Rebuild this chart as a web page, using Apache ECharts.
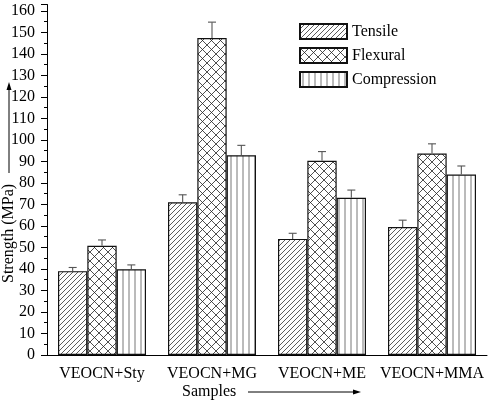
<!DOCTYPE html>
<html>
<head>
<meta charset="utf-8">
<script src="https://cdn.jsdelivr.net/npm/echarts@6/dist/echarts.min.js"></script>
<style>
html, body { margin: 0; padding: 0; background: #fff; }
#chart { width: 488px; height: 401px; }
</style>
</head>
<body>
<div id="chart"></div>
<script>
const categories = ['VEOCN+Sty', 'VEOCN+MG', 'VEOCN+ME', 'VEOCN+MMA'];
const seriesNames = ['Tensile', 'Flexural', 'Compression'];
const tensile = [39, 71, 54, 59.5];
const tensileErr = [1.7, 3.5, 2.6, 3.2];
const flexural = [50.8, 147.4, 90.3, 93.7];
const flexuralErr = [2.7, 7.4, 4.3, 4.5];
const compression = [39.9, 92.9, 73.1, 83.9];
const compressionErr = [2, 4.6, 3.6, 4];
const yTicks = [0, 10, 20, 30, 40, 50, 60, 70, 80, 90, 100, 110, 120, 130, 140, 150, 160];

const FONT = '"Times New Roman", "Liberation Serif", "DejaVu Serif", serif';

// small canvas tiles for the hatch fills
function makePattern(size, draw) {
    const c = document.createElement('canvas');
    c.width = size; c.height = size;
    const ctx = c.getContext('2d');
    ctx.fillStyle = '#fff';
    ctx.fillRect(0, 0, size, size);
    draw(ctx, size);
    return { image: c, repeat: 'repeat' };
}
const diagFill = makePattern(5, (ctx, s) => {
    ctx.strokeStyle = '#333'; ctx.lineWidth = 0.8;
    ctx.beginPath();
    ctx.moveTo(-1, s + 1); ctx.lineTo(s + 1, -1);
    ctx.moveTo(-1, 1); ctx.lineTo(1, -1);
    ctx.moveTo(s - 1, s + 1); ctx.lineTo(s + 1, s - 1);
    ctx.stroke();
});
const crossFill = makePattern(9, (ctx, s) => {
    ctx.strokeStyle = '#222'; ctx.lineWidth = 0.8;
    ctx.beginPath();
    ctx.moveTo(0, 0); ctx.lineTo(s, s);
    ctx.moveTo(0, s); ctx.lineTo(s, 0);
    ctx.stroke();
});
const vertFill = makePattern(6, (ctx, s) => {
    ctx.strokeStyle = '#777'; ctx.lineWidth = 1;
    ctx.beginPath();
    ctx.moveTo(3, 0); ctx.lineTo(3, s);
    ctx.stroke();
});

const values = [tensile, flexural, compression];
const errs = [tensileErr, flexuralErr, compressionErr];
const fills = [diagFill, crossFill, vertFill];

const barSeries = seriesNames.map((name, i) => ({
    name: name,
    type: 'bar',
    data: values[i],
    barGap: '0%',
    barCategoryGap: '20%',
    itemStyle: { color: fills[i], borderColor: '#111', borderWidth: 1.2 },
    emphasis: { disabled: true },
    z: 2
}));

const errSeries = seriesNames.map((name, i) => ({
    type: 'custom',
    name: name + ' err',
    data: values[i].map((v, k) => [k, v, v + errs[i][k]]),
    z: 3,
    silent: true,
    renderItem: (params, api) => {
        const catW = api.size([1, 0])[0];
        const barW = catW * 0.8 / 3;
        const x = api.coord([api.value(0), 0])[0] + (i - 1) * barW;
        const y0 = api.coord([api.value(0), api.value(1)])[1];
        const y1 = api.coord([api.value(0), api.value(2)])[1];
        const style = { stroke: '#555', lineWidth: 1.1 };
        return {
            type: 'group',
            children: [
                { type: 'line', shape: { x1: x, y1: y0, x2: x, y2: y1 }, style: style },
                { type: 'line', shape: { x1: x - 4, y1: y1, x2: x + 4, y2: y1 }, style: style }
            ]
        };
    }
}));

const chart = echarts.init(document.getElementById('chart'));
chart.setOption({
    animation: false,
    backgroundColor: '#fff',
    textStyle: { fontFamily: FONT },
    grid: { left: 47, right: 1, top: 4.5, bottom: 46 },
    legend: {
        data: seriesNames,
        icon: 'rect',
        orient: 'vertical',
        left: 299,
        top: 23,
        padding: 0,
        itemWidth: 47,
        itemHeight: 15,
        itemGap: 7,
        textStyle: { fontFamily: FONT, fontSize: 16, lineHeight: 16, color: '#000' },
        selectedMode: false
    },
    xAxis: [{
        type: 'category',
        data: categories,
        axisLine: { lineStyle: { color: '#000', width: 1 } },
        axisTick: { alignWithLabel: true, length: 5, lineStyle: { color: '#000' } },
        axisLabel: { fontFamily: FONT, fontSize: 16, color: '#000', margin: 11, interval: 0 }
    }, {
        type: 'category',
        data: categories,
        position: 'bottom',
        axisLine: { show: false },
        axisTick: { length: 3, lineStyle: { color: '#000' } },
        axisLabel: { show: false }
    }],
    yAxis: {
        type: 'value',
        min: 0,
        max: 163,
        interval: 10,
        splitLine: { show: false },
        axisLine: { show: true, lineStyle: { color: '#000', width: 1 } },
        axisTick: { show: true, length: 6, lineStyle: { color: '#000' } },
        minorTick: { show: true, splitNumber: 2, length: 3, lineStyle: { color: '#000' } },
        axisLabel: {
            fontFamily: FONT, fontSize: 16, color: '#000', margin: 12,
            formatter: v => (yTicks.indexOf(v) >= 0 ? String(v) : '')
        }
    },
    graphic: [
        {
            type: 'text', x: 1, y: 283, rotation: Math.PI / 2,
            style: { text: 'Strength (MPa)', fontFamily: FONT, fontSize: 16, fill: '#000' }
        },
        {
            type: 'line', shape: { x1: 9, y1: 173, x2: 9, y2: 88 },
            style: { stroke: '#000', lineWidth: 1 }
        },
        {
            type: 'polygon', shape: { points: [[9, 82], [6.5, 90], [11.5, 90]] },
            style: { fill: '#000' }
        },
        {
            type: 'text', x: 182, y: 384,
            style: { text: 'Samples', fontFamily: FONT, fontSize: 16, fill: '#000' }
        },
        {
            type: 'line', shape: { x1: 248, y1: 392, x2: 354, y2: 392 },
            style: { stroke: '#000', lineWidth: 1 }
        },
        {
            type: 'polygon', shape: { points: [[361, 392], [353, 389.5], [353, 394.5]] },
            style: { fill: '#000' }
        }
    ],
    series: barSeries.concat(errSeries)
});
</script>
</body>
</html>
